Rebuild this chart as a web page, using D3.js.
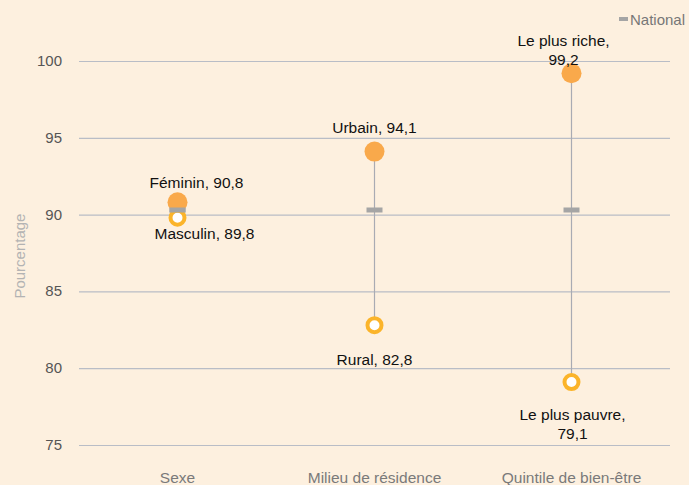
<!DOCTYPE html>
<html>
<head>
  <meta charset="utf-8">
  <script src="https://d3js.org/d3.v7.min.js"></script>
  <style>
    body { margin: 0; background: #fdf0df; font-family: "Liberation Sans", Arial, sans-serif; }
    .grid line { stroke: #b9bdc6; stroke-width: 1.2; }
    .grid path { display: none; }
    .ytick text { fill: #555; font-size: 15px; }
    .xlab { fill: #7a7a7a; font-size: 15.5px; text-anchor: middle; }
    .lbl { fill: #111; font-size: 15.5px; text-anchor: middle; }
  </style>
</head>
<body>
  <div id="chart"></div>
  <script>
    const categories = ["Sexe", "Milieu de résidence", "Quintile de bien-être"];
    const highValues = [90.8, 94.1, 99.2];
    const lowValues = [89.8, 82.8, 79.1];
    const nationalValues = [90.3, 90.3, 90.3];
    const highLabels = [["Féminin, 90,8"], ["Urbain, 94,1"], ["Le plus riche,", "99,2"]];
    const lowLabels = [["Masculin, 89,8"], ["Rural, 82,8"], ["Le plus pauvre,", "79,1"]];
    const yTicks = [75, 80, 85, 90, 95, 100];

    const W = 689, H = 485;
    const margin = {top: 61, right: 19, bottom: 40, left: 79};
    const width = W - margin.left - margin.right;
    const height = H - margin.top - margin.bottom;

    const svg = d3.select("#chart").append("svg")
      .attr("width", W).attr("height", H)
      .style("background", "#fdf0df");
    const g = svg.append("g").attr("transform", `translate(${margin.left},${margin.top})`);

    const x = d3.scaleBand().domain(categories).range([0, width]);
    const y = d3.scaleLinear().domain([75, 100]).range([height, 0]);

    // gridlines
    g.append("g").attr("class", "grid")
      .call(d3.axisLeft(y).tickValues(yTicks).tickSize(-width).tickFormat(""));

    // tick labels
    g.append("g").attr("class", "ytick")
      .selectAll("text").data(yTicks).join("text")
        .attr("x", -17).attr("y", d => y(d) + 5)
        .attr("text-anchor", "end").text(d => d);

    // category labels
    g.selectAll(".xlab").data(categories).join("text")
      .attr("class", "xlab")
      .attr("x", d => x(d) + x.bandwidth() / 2)
      .attr("y", height + 38)
      .text(d => d);

    // y title
    svg.append("text")
      .attr("transform", `translate(25,${margin.top + y(87.3)}) rotate(-90)`)
      .attr("text-anchor", "middle")
      .style("fill", "#b3b3b3").style("font-size", "15px")
      .text("Pourcentage");

    const cx = i => x(categories[i]) + x.bandwidth() / 2;
    const idx = d3.range(categories.length);

    // connectors
    g.selectAll(".conn").data(idx).join("line")
      .attr("x1", cx).attr("x2", cx)
      .attr("y1", i => y(highValues[i])).attr("y2", i => y(lowValues[i]))
      .attr("stroke", "#a9abb3").attr("stroke-width", 1.2);

    // national markers
    g.selectAll(".nat").data(idx).join("rect")
      .attr("x", i => cx(i) - 8).attr("y", i => y(nationalValues[i]) - 2.5)
      .attr("width", 16).attr("height", 5)
      .attr("fill", "#a5a5a5");

    // high points
    g.selectAll(".hi").data(idx).join("circle")
      .attr("cx", cx).attr("cy", i => y(highValues[i]))
      .attr("r", 10).attr("fill", "#f9a94b");

    // low points
    g.selectAll(".lo").data(idx).join("circle")
      .attr("cx", cx).attr("cy", i => y(lowValues[i]))
      .attr("r", 7).attr("fill", "#fff")
      .attr("stroke", "#fbb42a").attr("stroke-width", 4);

    // national marker of Sexe sits over its points
    g.append("rect")
      .attr("x", cx(0) - 8).attr("y", y(nationalValues[0]) - 2.5)
      .attr("width", 16).attr("height", 5).attr("fill", "#a5a5a5");

    // labels
    const lineH = 19;
    const hiOff = [-14, -19, -8];
    const hiDx = [19, 0, -8];
    const loOff = [21, 40, 38];
    const loDx = [27, 0, 1];
    idx.forEach(i => {
      const hl = highLabels[i];
      hl.forEach((t, k) => {
        g.append("text").attr("class", "lbl")
          .attr("x", cx(i) + hiDx[i])
          .attr("y", y(highValues[i]) + hiOff[i] - (hl.length - 1 - k) * lineH)
          .text(t);
      });
      lowLabels[i].forEach((t, k) => {
        g.append("text").attr("class", "lbl")
          .attr("x", cx(i) + loDx[i])
          .attr("y", y(lowValues[i]) + loOff[i] + k * lineH)
          .text(t);
      });
    });

    // legend
    svg.append("rect").attr("x", 619).attr("y", 17).attr("width", 9).attr("height", 4).attr("fill", "#a5a5a5");
    svg.append("text").attr("x", 630).attr("y", 25)
      .style("fill", "#777").style("font-size", "15px")
      .style("font-family", "'Liberation Sans Narrow', 'Liberation Sans', sans-serif")
      .text("National");
  </script>
</body>
</html>
